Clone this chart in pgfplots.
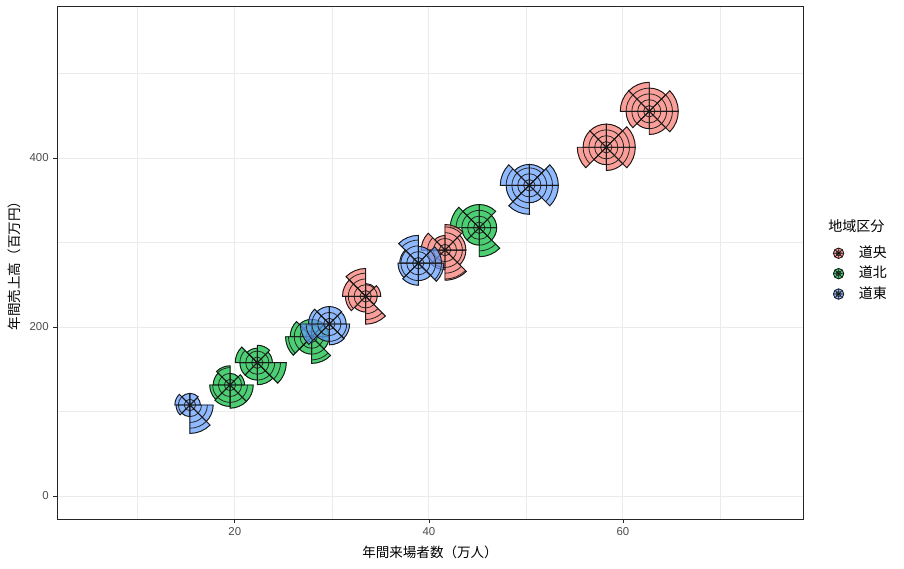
\documentclass[border=0pt]{standalone}
\usepackage{fontspec}
\setmainfont{Liberation Sans}
\newfontfamily\cjk{Noto Sans CJK JP}
\usepackage{pgfplots}
\pgfplotsset{compat=1.18}
\usepackage{pgfplotstable}

\definecolor{cred}{HTML}{F8766D}
\definecolor{cgreen}{HTML}{00BA38}
\definecolor{cblue}{HTML}{619CFF}

\pgfdeclareplotmark{nothing}{}

% one glyph: 8 wedges of 45 degrees, radius in units of 4.35bp (5.8px)
\newcommand\rosedraw[1]{%
  \foreach \v [count=\i from 0] in {\rA,\rB,\rC,\rD,\rE,\rF,\rG,\rH} {%
    \pgfmathsetmacro\rrad{\v*4.35}%
    \pgfmathsetmacro\ang{\i*45}%
    \fill[#1, fill opacity=0.7] (0pt,0pt) -- (\ang:\rrad bp) arc[start angle=\ang, delta angle=45, radius=\rrad bp] -- cycle;
  }%
  \foreach \v [count=\i from 0] in {\rA,\rB,\rC,\rD,\rE,\rF,\rG,\rH} {%
    \pgfmathsetmacro\rrad{\v*4.35}%
    \pgfmathsetmacro\ang{\i*45}%
    \pgfmathtruncatemacro\nr{ceil(\v-0.15)-1}%
    \ifnum\nr>0
      \foreach \j in {1,...,\nr} {%
        \pgfmathsetmacro\rj{\j*4.35}%
        \draw[black!85, line width=0.6bp] (\ang:\rj bp) arc[start angle=\ang, delta angle=45, radius=\rj bp];
      }%
    \fi
    \draw[black!90, line width=0.7bp, line join=miter] (0pt,0pt) -- (\ang:\rrad bp) arc[start angle=\ang, delta angle=45, radius=\rrad bp] -- cycle;
  }%
}

\newcommand\legkey[1]{%
  \fill[#1, fill opacity=0.7] (0pt,0pt) circle (3.9bp);
  \draw[black!85, line width=0.5bp] (0pt,0pt) circle (1.9bp);
  \draw[black!90, line width=0.6bp] (0pt,0pt) circle (3.9bp);
  \draw[black!90, line width=0.5bp] (-3.9bp,0bp) -- (3.9bp,0bp) (0bp,-3.9bp) -- (0bp,3.9bp)
     (-2.76bp,-2.76bp) -- (2.76bp,2.76bp) (-2.76bp,2.76bp) -- (2.76bp,-2.76bp);
}

\pgfplotstableread{
x y a b c d e f g h
62.71 455.3 5 4 5 5 4 3 4 5
58.28 412.7 5 4 4 4 5 3 4 5
41.66 291.1 3.6 4.4 2.5 4.1 3 3.4 5.2 3.6
33.49 236.3 2.6 2.2 4.8 4 3.5 2.7 4.8 2
}\reddata

\pgfplotstableread{
x y a b c d e f g h
45.19 317.5 3 4 4 5 3 3 5 3
27.92 188.5 3 3 3 3.7 4.5 3 4.6 3
22.32 157.8 2.6 3 2.5 3.8 3 3 3.8 5
19.51 131.4 2.5 2 3.3 2.9 3.5 3.7 4 4
}\greendata

\pgfplotstableread{
x y a b c d e f g h
50.35 367.7 5 3.6 3.6 5 4 5 3 5
38.91 275.5 4 2.9 4.8 3.2 3.5 3.8 3 4.4
29.74 203.6 2.9 3 3 3.6 5 3 3.6 3.5
15.38 107.7 1.8 2 2 2.6 2.4 2 4.9 4
}\bluedata

\pgfplotsset{
  rose/.style={scatter, only marks, mark=nothing, forget plot,
    visualization depends on={\thisrow{a}\as\rA},
    visualization depends on={\thisrow{b}\as\rB},
    visualization depends on={\thisrow{c}\as\rC},
    visualization depends on={\thisrow{d}\as\rD},
    visualization depends on={\thisrow{e}\as\rE},
    visualization depends on={\thisrow{f}\as\rF},
    visualization depends on={\thisrow{g}\as\rG},
    visualization depends on={\thisrow{h}\as\rH},
    scatter/@pre marker code/.code={\rosedraw{#1}},
    scatter/@post marker code/.code={}},
}

\begin{document}
\begin{tikzpicture}
\begin{axis}[
  scale only axis, width=559.5bp, height=384.75bp,
  xmin=1.68, xmax=78.55, ymin=-27.2, ymax=579.9,
  clip mode=individual,
  xtick={20,40,60}, ytick={0,200,400},
  minor xtick={10,30,50,70}, minor ytick={100,300,500},
  grid=both,
  major grid style={draw=black!8, line width=0.75bp},
  minor grid style={draw=black!8, line width=0.4bp},
  axis line style={draw=black!85, line width=0.55bp},
  tick align=outside, tick pos=left,
  major tick length=2.75bp, minor tick length=0pt,
  every tick/.style={draw=black!85, line width=0.55bp},
  /pgf/number format/assume math mode=true,
  ticklabel style={font=\fontsize{8.6}{10}\selectfont, text=black!70},
  xlabel={\cjk 年間来場者数（万人）},
  ylabel={\cjk 年間売上高（百万円）},
  label style={font=\fontsize{10.2}{12}\selectfont},
  xlabel style={at={(axis description cs:0.5,-0.0643)}, anchor=center},
  ylabel style={at={(axis description cs:-0.0576,0.5)}, anchor=center},
  legend style={at={(axis description cs:1.0402,0.531)}, anchor=north west,
    draw=none, fill=none, inner sep=0pt, outer sep=0pt,
    row sep=5.3bp, column sep=11bp,
    font=\cjk\fontsize{10.5}{12}\selectfont,
    nodes={inner sep=0pt, text height=8bp, text depth=2bp}},
  legend cell align=left,
]
\addplot[rose=cgreen] table[x=x, y=y] {\greendata};
\addplot[rose=cred] table[x=x, y=y] {\reddata};
\addplot[rose=cblue] table[x=x, y=y] {\bluedata};

\addlegendimage{legend image code/.code={\legkey{cred}}}
\addlegendentry{道央}
\addlegendimage{legend image code/.code={\legkey{cgreen}}}
\addlegendentry{道北}
\addlegendimage{legend image code/.code={\legkey{cblue}}}
\addlegendentry{道東}

\node[anchor=west, font=\cjk\fontsize{10.6}{12}\selectfont, inner sep=0pt] at (axis description cs:1.0335,0.5712) {地域区分};
\end{axis}
\pgfresetboundingbox
\path ([xshift=-42.75bp,yshift=-37.5bp]current axis.south west) rectangle ([xshift=75.75bp,yshift=4.5bp]current axis.north east);
\end{tikzpicture}
\end{document}
